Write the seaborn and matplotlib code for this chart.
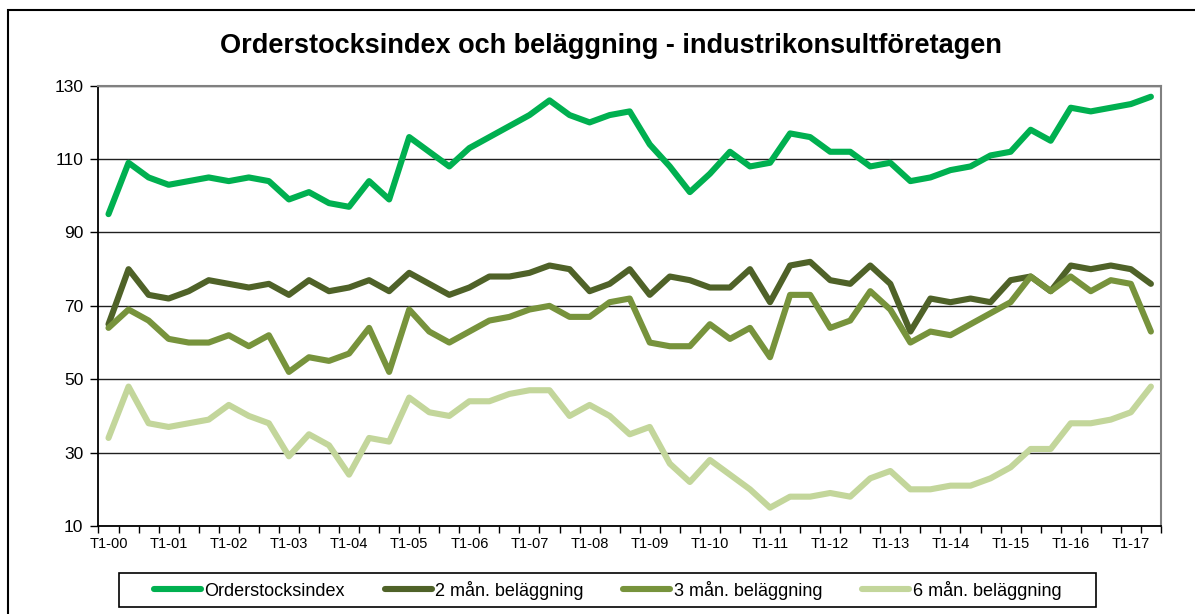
import numpy as np
import pandas as pd
import seaborn as sns
import matplotlib.pyplot as plt
from matplotlib.patches import Rectangle

# Tertial labels T1-00 ... T2-17
periods = [f"T{t}-{y:02d}" for y in range(0, 18) for t in (1, 2, 3)][:53]

orderstock = [95, 109, 105, 103, 104, 105, 104, 105, 104, 99,
              101, 98, 97, 104, 99, 116, 112, 108, 113, 116,
              119, 122, 126, 122, 120, 122, 123, 114, 108, 101,
              106, 112, 108, 109, 117, 116, 112, 112, 108, 109,
              104, 105, 107, 108, 111, 112, 118, 115, 124, 123,
              124, 125, 127]
belagg_2 = [65, 80, 73, 72, 74, 77, 76, 75, 76, 73,
            77, 74, 75, 77, 74, 79, 76, 73, 75, 78,
            78, 79, 81, 80, 74, 76, 80, 73, 78, 77,
            75, 75, 80, 71, 81, 82, 77, 76, 81, 76,
            63, 72, 71, 72, 71, 77, 78, 74, 81, 80,
            81, 80, 76]
belagg_3 = [64, 69, 66, 61, 60, 60, 62, 59, 62, 52,
            56, 55, 57, 64, 52, 69, 63, 60, 63, 66,
            67, 69, 70, 67, 67, 71, 72, 60, 59, 59,
            65, 61, 64, 56, 73, 73, 64, 66, 74, 69,
            60, 63, 62, 65, 68, 71, 78, 74, 78, 74,
            77, 76, 63]
belagg_6 = [34, 48, 38, 37, 38, 39, 43, 40, 38, 29,
            35, 32, 24, 34, 33, 45, 41, 40, 44, 44,
            46, 47, 47, 40, 43, 40, 35, 37, 27, 22,
            28, 24, 20, 15, 18, 18, 19, 18, 23, 25,
            20, 20, 21, 21, 23, 26, 31, 31, 38, 38,
            39, 41, 48]

series_names = ["Orderstocksindex", "2 mån. beläggning", "3 mån. beläggning", "6 mån. beläggning"]
colors = ["#00B050", "#4F6228", "#77933C", "#C3D69B"]

df = pd.DataFrame({
    "idx": list(range(len(periods))) * 4,
    "value": orderstock + belagg_2 + belagg_3 + belagg_6,
    "serie": [s for s in series_names for _ in periods],
})

sns.set_style("white")
plt.rcParams['font.family'] = ['Liberation Sans', 'DejaVu Sans']
plt.rcParams['text.color'] = 'black'
plt.rcParams['xtick.color'] = 'black'
plt.rcParams['ytick.color'] = 'black'

fig = plt.figure(figsize=(11.95, 6.14), dpi=100)
ax = fig.add_axes([0.0824, 0.1433, 0.8891, 0.7171])

for name, col in zip(series_names, colors):
    sns.lineplot(data=df[df['serie'] == name], x='idx', y='value', color=col,
                 linewidth=4.4, label=name, ax=ax, legend=False,
                 solid_joinstyle='round', solid_capstyle='round')

ax.set_xlim(-0.5, len(periods) - 0.5)
ax.set_ylim(10, 130)
ax.set_yticks(range(10, 131, 20))
ax.tick_params(axis='y', labelsize=12.5, length=6, width=1, direction='out', left=True, pad=5)
ax.set_xticks(np.arange(-0.5, len(periods), 1), minor=True)
ax.set_xticks(range(0, len(periods), 3))
ax.set_xticklabels([periods[i] for i in range(0, len(periods), 3)], fontsize=10.5)
ax.tick_params(axis='x', which='major', length=0, pad=8)
ax.tick_params(axis='x', which='minor', length=5, width=1, direction='out', bottom=True)
ax.set_xlabel('')
ax.set_ylabel('')
ax.grid(axis='y', color='#202020', linewidth=1)
ax.set_axisbelow(True)

for side in ['left', 'bottom']:
    ax.spines[side].set_color('black')
    ax.spines[side].set_linewidth(1.3)
for side in ['top', 'right']:
    ax.spines[side].set_color('#808080')
    ax.spines[side].set_linewidth(1.5)

fig.suptitle('Orderstocksindex och beläggning - industrikonsultföretagen',
             fontsize=19.5, fontweight='bold', x=0.511, y=0.925, va='center', color='black')

handles, labels = ax.get_legend_handles_labels()
leg = fig.legend(handles, labels, loc='center', bbox_to_anchor=(0.5084, 0.039),
                 ncol=4, fontsize=13, frameon=False,
                 handlelength=2.6, handletextpad=0.2, columnspacing=2.2)

# legend box and outer chart border
fig.patches.append(Rectangle((119 / 1195, 1 - 607 / 614), 977 / 1195, 34 / 614,
                             transform=fig.transFigure, fill=False,
                             edgecolor='black', linewidth=1.2))
fig.patches.append(Rectangle((0.0064, -0.1), 1.2, 1.084, transform=fig.transFigure,
                             fill=False, edgecolor='black', linewidth=1.5))

plt.savefig('out.png', dpi=100)
